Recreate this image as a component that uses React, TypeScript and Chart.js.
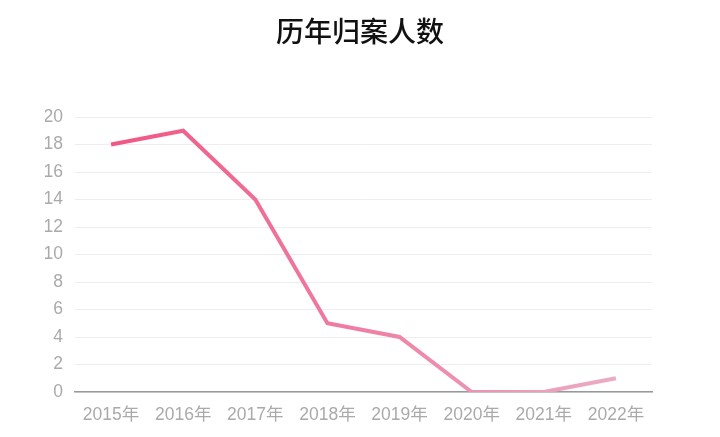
import React, { useEffect, useRef } from "react";
import { Chart, registerables } from "chart.js";

Chart.register(...registerables);

const categories = ["2015年", "2016年", "2017年", "2018年", "2019年", "2020年", "2021年", "2022年"];
const caseCounts = [18, 19, 14, 5, 4, 0, 0, 1];
const titleText = "历年归案人数";

const tickFont = "'Liberation Sans', 'Noto Sans CJK SC', sans-serif";

const titlePlugin = {
  id: "centerTitle",
  afterDraw(chart: any) {
    const c = chart.ctx;
    c.save();
    c.fillStyle = "#111";
    c.font = "500 28px 'Noto Sans CJK SC', sans-serif";
    c.textAlign = "center";
    c.textBaseline = "middle";
    c.fillText(titleText, chart.width / 2, 31);
    c.restore();
  },
};

export default function App() {
  const ref = useRef<HTMLCanvasElement | null>(null);
  useEffect(() => {
    document.body.style.margin = "0";
    const canvas = ref.current;
    if (!canvas) return;
    const chart = new Chart(canvas, {
      type: "line",
      data: {
        labels: categories,
        datasets: [
          {
            data: caseCounts,
            borderWidth: 4,
            pointRadius: 0,
            tension: 0,
            fill: false,
            borderColor: (ctx: any) => {
              const ch = ctx.chart;
              const area = ch.chartArea;
              if (!area) return "#f06090";
              const g = ch.ctx.createLinearGradient(area.left, 0, area.right, 0);
              g.addColorStop(0, "#f0507f");
              g.addColorStop(0.5, "#ee80a3");
              g.addColorStop(1, "#ebb2c6");
              return g;
            },
          },
        ],
      },
      plugins: [titlePlugin],
      options: {
        responsive: false,
        animation: false,
        layout: { padding: { left: 45, right: 68, top: 117, bottom: 0 } },
        plugins: {
          legend: { display: false },
          tooltip: { enabled: false },
          title: { display: false },
        },
        scales: {
          x: {
            offset: true,
            grid: { display: false, drawTicks: false },
            border: { display: true, color: "#999", width: 1.5 },
            afterFit: (s: any) => {
              s.height = 45;
            },
            ticks: {
              color: "#aaa",
              padding: 13,
              maxRotation: 0,
              font: { family: tickFont, size: 17.5 },
            },
          },
          y: {
            min: 0,
            max: 20,
            grid: { color: "#eeeeee", drawTicks: false },
            border: { display: false },
            afterFit: (s: any) => {
              s.width = 30;
            },
            ticks: {
              stepSize: 2,
              color: "#aaa",
              padding: 12,
              font: { family: tickFont, size: 17.5 },
            },
          },
        },
      },
    });
    return () => chart.destroy();
  }, []);
  return (
    <div style={{ position: "absolute", left: 0, top: 0, width: 720, height: 437, background: "#fff" }}>
      <canvas ref={ref} width={720} height={437} style={{ display: "block" }} />
    </div>
  );
}
